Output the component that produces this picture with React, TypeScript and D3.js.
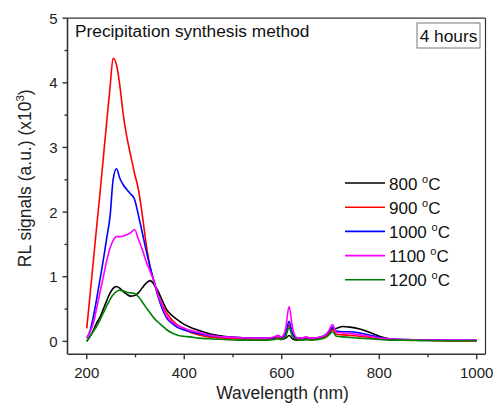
import React from "react";
import * as d3 from "d3";

const wavelengths = [200, 207, 214, 220, 227, 234, 241, 248, 254, 261, 268, 275, 282, 290, 298, 306, 314, 322, 330, 338, 346, 355, 364, 375, 385, 398, 412, 430, 450, 480, 510, 540, 570, 585, 592, 600, 608, 615, 622, 630, 640, 650, 660, 675, 690, 697, 704, 712, 725, 740, 760, 780, 800, 820, 850, 900, 950, 1000];

const s800 = [0.0, 0.08, 0.18, 0.28, 0.37, 0.5, 0.63, 0.75, 0.82, 0.85, 0.82, 0.77, 0.73, 0.7, 0.71, 0.75, 0.83, 0.9, 0.94, 0.88, 0.78, 0.63, 0.49, 0.4, 0.34, 0.27, 0.22, 0.17, 0.12, 0.08, 0.06, 0.05, 0.04, 0.04, 0.05, 0.03, 0.05, 0.09, 0.04, 0.02, 0.02, 0.03, 0.03, 0.05, 0.1, 0.15, 0.19, 0.2, 0.23, 0.22, 0.19, 0.14, 0.08, 0.04, 0.02, 0.02, 0.01, 0.01];
const s900 = [0.2, 0.74, 1.28, 1.75, 2.28, 2.84, 3.4, 3.95, 4.38, 4.28, 3.95, 3.5, 3.17, 2.88, 2.6, 2.35, 1.95, 1.5, 1.15, 0.92, 0.72, 0.56, 0.44, 0.33, 0.26, 0.2, 0.14, 0.1, 0.07, 0.05, 0.04, 0.03, 0.03, 0.04, 0.06, 0.04, 0.1, 0.25, 0.1, 0.04, 0.03, 0.04, 0.03, 0.04, 0.08, 0.12, 0.18, 0.11, 0.1, 0.09, 0.08, 0.06, 0.04, 0.03, 0.02, 0.02, 0.01, 0.01];
const s1000 = [0.05, 0.17, 0.4, 0.64, 0.95, 1.26, 1.6, 1.95, 2.5, 2.67, 2.52, 2.42, 2.35, 2.28, 2.2, 1.95, 1.68, 1.4, 1.15, 0.93, 0.7, 0.5, 0.36, 0.28, 0.22, 0.18, 0.15, 0.12, 0.09, 0.07, 0.06, 0.05, 0.05, 0.06, 0.09, 0.06, 0.12, 0.31, 0.12, 0.06, 0.05, 0.06, 0.05, 0.06, 0.1, 0.15, 0.22, 0.16, 0.15, 0.15, 0.13, 0.1, 0.06, 0.04, 0.03, 0.02, 0.02, 0.02];
const s1100 = [0.05, 0.15, 0.29, 0.5, 0.75, 1.0, 1.25, 1.45, 1.56, 1.62, 1.62, 1.63, 1.65, 1.68, 1.73, 1.58, 1.42, 1.23, 1.08, 0.93, 0.72, 0.55, 0.39, 0.3, 0.25, 0.21, 0.17, 0.14, 0.1, 0.07, 0.06, 0.05, 0.05, 0.07, 0.09, 0.07, 0.2, 0.54, 0.22, 0.06, 0.05, 0.07, 0.05, 0.06, 0.1, 0.17, 0.26, 0.14, 0.13, 0.12, 0.1, 0.08, 0.05, 0.04, 0.03, 0.02, 0.02, 0.02];
const s1200 = [0.0, 0.08, 0.16, 0.23, 0.33, 0.44, 0.55, 0.65, 0.72, 0.77, 0.79, 0.78, 0.76, 0.75, 0.74, 0.69, 0.61, 0.52, 0.44, 0.36, 0.3, 0.24, 0.18, 0.13, 0.1, 0.08, 0.07, 0.05, 0.04, 0.03, 0.02, 0.02, 0.02, 0.03, 0.04, 0.03, 0.08, 0.21, 0.08, 0.03, 0.02, 0.03, 0.02, 0.03, 0.06, 0.1, 0.15, 0.08, 0.07, 0.06, 0.05, 0.04, 0.03, 0.02, 0.02, 0.01, 0.01, 0.01];

const seriesLabels = ["800", "900", "1000", "1100", "1200"];
const seriesValues = [s800, s900, s1000, s1100, s1200];
const seriesColors = ["#000000", "#ff0000", "#0000ff", "#ff00ff", "#008000"];

const xMajorTicks = [200, 400, 600, 800, 1000];
const xMinorTicks = [300, 500, 700, 900];
const yMajorTicks = [0, 1, 2, 3, 4, 5];
const yMinorTicks = [0.5, 1.5, 2.5, 3.5, 4.5];

const W = 494;
const H = 403;
const L = 67.5;
const R = 485.5;
const T = 18.2;
const B = 354.3;
const FONT = "'Liberation Sans', Arial, sans-serif";

export default function App() {
  const x = d3.scaleLinear().domain([160.5, 1018]).range([L, R]);
  const y = d3.scaleLinear().domain([-0.2, 5]).range([B, T]);
  const line = d3
    .line<number>()
    .x((_, i) => x(wavelengths[i]))
    .y((d) => y(d))
    .curve(d3.curveMonotoneX);

  const axisColor = "#333";
  const legendX1 = 345;
  const legendX2 = 385;
  const legendY0 = 183;
  const legendDy = 24.2;

  return (
    <svg
      width={W}
      height={H}
      style={{ position: "absolute", left: 0, top: 0, background: "#fff" }}
      fontFamily={FONT}
    >
      <rect x={0} y={0} width={W} height={H} fill="#fff" />
      <defs>
        <clipPath id="plotclip">
          <rect x={L} y={T} width={R - L} height={B - T} />
        </clipPath>
      </defs>
      {/* frame top/right */}
      <line x1={L} x2={R} y1={T} y2={T} stroke={axisColor} strokeWidth={1.2} />
      <line x1={R} x2={R} y1={T} y2={B} stroke={axisColor} strokeWidth={1.2} />

      {/* data */}
      <g clipPath="url(#plotclip)">
        {seriesValues.map((vals, i) => (
          <path
            key={seriesLabels[i]}
            d={line(vals) || ""}
            fill="none"
            stroke={seriesColors[i]}
            strokeWidth={1.6}
            strokeLinejoin="round"
          />
        ))}
      </g>

      {/* left axis */}
      <line x1={L} x2={L} y1={T} y2={B} stroke={axisColor} strokeWidth={1.6} />
      {yMajorTicks.map((t) => (
        <g key={"ym" + t}>
          <line x1={L - 5} x2={L} y1={y(t)} y2={y(t)} stroke={axisColor} strokeWidth={1.4} />
          <text x={L - 10} y={y(t) + 5.5} textAnchor="end" fontSize={15} fill="#222">
            {t}
          </text>
        </g>
      ))}
      {yMinorTicks.map((t) => (
        <line key={"yn" + t} x1={L - 3} x2={L} y1={y(t)} y2={y(t)} stroke={axisColor} strokeWidth={1.4} />
      ))}

      {/* bottom axis */}
      <line x1={L} x2={R} y1={B} y2={B} stroke={axisColor} strokeWidth={1.6} />
      {xMajorTicks.map((t) => (
        <g key={"xm" + t}>
          <line x1={x(t)} x2={x(t)} y1={B} y2={B + 5} stroke={axisColor} strokeWidth={1.4} />
          <text x={x(t)} y={B + 24} textAnchor="middle" fontSize={15} fill="#222">
            {t}
          </text>
        </g>
      ))}
      {xMinorTicks.map((t) => (
        <line key={"xn" + t} x1={x(t)} x2={x(t)} y1={B} y2={B + 3} stroke={axisColor} strokeWidth={1.4} />
      ))}

      {/* axis titles */}
      <text x={(L + R) / 2 + 6} y={399} textAnchor="middle" fontSize={17.5} fill="#222">
        Wavelength (nm)
      </text>
      <text
        transform={`translate(31, ${(T + B) / 2 - 8}) rotate(-90)`}
        textAnchor="middle"
        fontSize={17.5}
        fill="#222"
      >
        RL signals (a.u.) (x10
        <tspan dy={-7} fontSize={11.5}>3</tspan>
        <tspan dy={7}>)</tspan>
      </text>

      {/* title */}
      <text x={75} y={37} fontSize={17.3} fill="#111">
        Precipitation synthesis method
      </text>
      <rect x={417} y={23} width={63} height={25} fill="#fff" stroke="#777" strokeWidth={1} />
      <text x={448.5} y={41.5} textAnchor="middle" fontSize={17.3} fill="#111">
        4 hours
      </text>

      {/* legend */}
      {seriesLabels.map((lab, i) => {
        const ly = legendY0 + i * legendDy;
        return (
          <g key={"lg" + lab}>
            <line x1={legendX1} x2={legendX2} y1={ly} y2={ly} stroke={seriesColors[i]} strokeWidth={1.6} />
            <text x={legendX2 + 4} y={ly + 6.5} fontSize={17} fill="#111">
              {lab + " "}
              <tspan dy={-7} fontSize={11}>o</tspan>
              <tspan dy={7}>C</tspan>
            </text>
          </g>
        );
      })}
    </svg>
  );
}
